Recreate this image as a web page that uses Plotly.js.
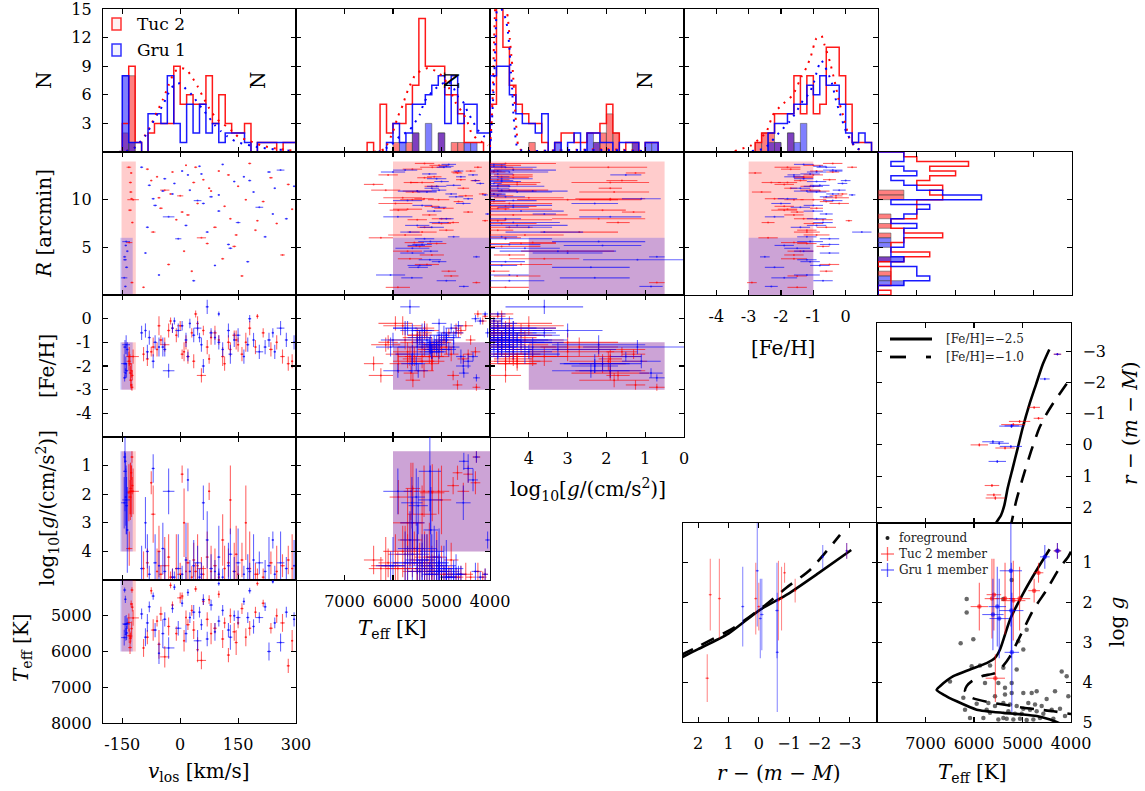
<!DOCTYPE html>
<html><head><meta charset="utf-8">
<script src="https://cdn.plot.ly/plotly-3.0.1.min.js"></script>
<style>html,body{margin:0;padding:0;background:#fff}#plot{width:1145px;height:791px}</style>
</head><body><div id="plot"></div>
<script>
// ---------------- DATA ----------------
// Tuc 2 field sample (first 10 = members)
const tucMember=[1,1,1,1,1,1,1,1,1,1, 0,0,0,0,0,0,0,0,0,0, 0,0,0,0,0,0,0,0,0,0, 0,0,0,0,0,0,0,0,0,0, 0,0,0,0,0,0,0,0,0,0, 0,0,0,0,0,0];
const tucV=[-128,-126,-130,-124,-132,-127,-125,-133,-122,-129, -95,-85,-70,-60,-50,-40,-30,-20,-10,0, 10,15,20,30,35,45,55,60,70,80, 90,100,110,115,125,130,140,150,160,170, 180,195,215,235,250,265,280,290,-75,5, 75,-25,40,200,-55,145];
const tucVe=[4,3,5,3,8,3,4,6,15,4, 3,4,6,3,5,12,4,3,3,8, 3,2,5,3,4,3,12,3,4,3, 5,3,4,3,4,3,5,3,4,3, 4,3,4,5,3,6,4,3,3,4, 3,3,4,3,4,4];
const tucT=[5590,5360,5890,4760,5560,4670,4280,5190,5060,5630, 5900,5600,5400,5150,4950,6150,5300,4700,5500,4500, 5700,5050,5250,4850,5400,5950,6250,4600,5100,5500, 5350,4400,5650,5200,6100,5000,5450,5200,4800,5600, 5350,4900,4650,5350,5000,5200,6400,5700,4300,4450, 4550,4150,4250,4100,5800,5750];
const tucTe=[150,200,180,120,200,100,80,250,220,150, 250,200,300,150,200,300,250,100,200,150, 300,200,150,150,250,350,250,100,200,300, 150,100,250,150,200,200,250,150,150,250, 200,150,100,150,200,250,200,300,100,100, 120,80,80,60,400,350];
const tucG=[1.8,1.9,2.1,1.7,3.9,1.25,0.7,1.95,1.9,1.9, 4.6,4.4,2.7,4.7,4.8,4.5,4.2,4.9,4.6,4.8, 3.0,4.7,4.4,4.9,4.3,4.5,4.6,4.8,4.2,4.7, 4.5,4.9,3.6,4.6,4.4,2.2,4.7,4.8,4.3,3.0, 4.6,4.8,4.9,4.4,4.7,4.5,4.3,4.6,1.6,1.3, 1.9,4.9,4.7,4.8,4.0,4.1];
const tucGe=[0.9,0.9,0.6,0.3,0.6,0.25,0.2,1.0,0.8,1.0, 0.6,0.5,1.0,0.8,0.3,1.0,0.8,0.3,1.2,0.4, 1.2,0.5,1.4,0.4,0.6,1.1,0.4,0.3,0.9,0.9, 0.6,0.2,0.9,0.8,0.5,1.2,1.0,0.3,0.6,1.3, 1.3,0.4,0.3,0.4,0.9,0.4,0.5,1.2,0.4,0.3, 0.3,0.2,0.3,0.2,0.9,1.0];
const tucF=[-2.6,-2.2,-1.9,-2.4,-1.6,-2.8,-2.9,-1.8,-1.6,-2.3, -1.5,-1.7,-1.2,-1.3,-0.9,-1.1,-0.5,-0.4,-0.7,-0.3, -1.4,-1.0,-1.6,-0.6,-1.8,-0.2,-2.4,-0.5,-1.2,-0.8, -0.6,-0.9,-1.6,-1.9,-1.0,-1.3,-0.7,-1.1,-1.5,-1.0, -0.4,-1.2,-0.6,-1.3,-1.0,-1.6,-1.9,-1.8,-1.4,-1.5, -1.7,-0.1,0.2,0.1,-0.3,-0.9];
const tucFe=[0.3,0.3,0.4,0.2,0.4,0.2,0.15,0.4,0.3,0.3, 0.3,0.3,0.4,0.3,0.2,0.3,0.3,0.2,0.3,0.2, 0.4,0.3,0.3,0.2,0.3,0.3,0.3,0.2,0.3,0.3, 0.3,0.2,0.4,0.3,0.3,0.3,0.2,0.3,0.3,0.4, 0.3,0.3,0.2,0.3,0.3,0.3,0.3,0.3,0.2,0.2, 0.2,0.15,0.15,0.1,0.4,0.4];
const tucR=[10.8,10.1,8.9,7.6,5.5,12.8,1.3,13.4,10.0,11.8, 0.8,13.2,6.6,12.4,9.1,11.0,3.2,12.9,7.9,10.4, 4.6,13.6,8.4,2.5,11.8,9.6,6.0,12.1,5.4,10.9, 7.1,13.0,3.8,9.3,12.6,8.0,5.1,11.4,2.0,10.0, 13.8,6.8,9.8,12.3,7.5,4.2,11.6,9.0,12.0,8.7, 11.2,10.6,13.4,7.8,10.2,6.3];
const tucMemMag=[1.6,0.1,0.0,-1.2,1.7,-0.85,-2.9,-0.65,-0.75,1.3];
const tucMemMagErr=[0.05,0.05,0.05,0.04,0.06,0.04,0.03,0.05,0.05,0.05];

// Gru 1 field sample (first 8 = members)
const gruMember=[1,1,1,1,1,1,1,1, 0,0,0,0,0,0,0,0,0,0, 0,0,0,0,0,0,0,0,0,0, 0,0,0,0,0,0,0,0,0,0, 0,0,0,0,0,0,0,0,0,0, 0,0,0,0];
const gruV=[-143,-141,-139,-145,-137,-142,-144,-140, -100,-90,-80,-65,-55,-40,-30,-20,-5,5, 15,25,35,45,55,70,80,90,100,110, 125,140,150,165,175,190,205,220,230,245, 260,275,295,-70,20,60,-15,100,180,-45, 130,240,-85,50];
const gruVe=[5,3,4,8,3,3,4,10, 4,3,4,5,3,4,15,3,8,3, 4,3,4,10,3,4,5,3,4,3, 4,3,6,3,4,3,10,4,5,3, 10,4,3,4,3,4,3,3,4,4, 5,3,4,3];
const gruT=[5240,5520,5480,5610,5220,4540,4280,5230, 4950,5600,4750,5400,6050,5100,5900,4800,5350,4650, 5500,5050,4900,5700,5250,5650,4700,5450,5150,4850, 5400,5000,5050,4600,5050,5300,5050,4750,6000,5200, 5750,4900,5100,4450,4350,4550,4200,4100,4300,5500, 5600,4050,5200,4900];
const gruTe=[230,180,200,220,150,100,70,250, 150,250,150,200,300,200,300,120,200,100, 250,150,200,300,150,200,150,250,150,150, 200,150,200,100,150,200,150,120,250,150, 250,150,200,100,100,150,80,60,80,400, 350,50,250,150];
const gruG=[1.2,2.1,2.4,2.3,3.25,0.85,0.7,2.2, 4.6,3.0,4.8,4.4,4.5,4.7,1.9,4.9,4.6,4.8, 4.3,4.7,4.5,4.4,4.8,3.6,4.6,4.7,4.2,4.9, 4.5,4.7,4.4,4.8,4.6,4.3,4.4,4.7,4.5,4.8, 4.4,4.6,4.5,1.1,1.5,2.3,4.9,4.8,4.7,3.9, 4.1,3.6,4.0,4.9];
const gruGe=[1.4,1.0,1.0,0.9,1.5,0.3,0.2,1.2, 0.8,0.9,0.3,1.0,0.5,0.8,0.8,0.3,1.2,0.3, 1.3,0.4,0.9,0.6,0.4,1.0,0.5,0.4,1.1,0.3, 0.8,0.5,1.2,0.3,0.5,0.9,0.4,0.4,1.0,0.3, 1.1,0.4,0.9,0.5,0.4,0.6,0.2,0.2,0.3,0.9, 0.9,0.3,0.6,0.3];
const gruF=[-1.2,-1.9,-2.2,-1.9,-1.3,-2.3,-2.5,-1.1, -0.6,-0.5,-0.8,-1.0,-1.2,-1.3,-2.2,-0.4,-0.5,-0.3, -0.9,-0.2,-0.7,-0.4,-1.1,0.5,-0.6,-0.8,-1.0,-1.3, -0.5,-0.9,-0.7,-1.6,-1.1,-0.9,-1.4,-1.2,-0.9,-1.4, -0.4,-0.9,-1.0,-1.8,-1.6,-2.0,-0.1,0.2,0.0,-1.2, -1.5,-0.6,-1.4,-0.8];
const gruFe=[0.3,0.3,0.3,0.4,0.3,0.2,0.15,0.4, 0.3,0.3,0.3,0.3,0.4,0.3,0.3,0.2,0.3,0.2, 0.3,0.2,0.3,0.3,0.3,0.3,0.2,0.3,0.3,0.3, 0.3,0.3,0.3,0.3,0.3,0.3,0.3,0.3,0.3,0.3, 0.3,0.3,0.3,0.3,0.2,0.3,0.15,0.1,0.15,0.4, 0.4,0.2,0.3,0.2];
const gruR=[3.7,5.2,2.9,1.8,4.6,0.9,4.0,5.6, 13.4,4.4,11.5,9.4,2.1,12.2,8.2,10.6,5.9,13.0, 7.3,11.0,1.5,9.9,12.7,6.6,10.3,3.1,8.8,13.7, 5.3,11.9,7.6,12.4,3.5,10.8,9.2,6.1,12.9,11.2, 13.1,8.0,11.4,10.1,12.6,9.6,11.7,10.5,12.0,10.9, 4.9,8.5,7.1,13.5];
const gruMemMag=[0.05,0.53,-0.05,-0.1,-0.61,-2.11,-2.9,-0.6];
const gruMemMagErr=[0.05,0.05,0.05,0.06,0.05,0.04,0.03,0.06];

// Histograms (30 bins each): bin start, bin size, counts
const vlosBin={start:-200,size:500/30};
const tucVlosHist=[0,0,0,3,9,1,0,2,3,3,3,9,5,6,5,5,8,3,6,3,2,2,3,0,1,1,1,0,1,1];
const gruVlosHist=[0,0,0,8,1,1,0,4,4,3,8,3,1,5,2,5,2,3,1,2,2,2,1,0,1,1,1,1,1,1];
const tucVlosMem=[0,0,0,2,8,0,0,0,0,0,0,0,0,0,0,0,0,0,0,0,0,0,0,0,0,0,0,0,0,0];
const gruVlosMem=[0,0,0,8,1,0,0,0,0,0,0,0,0,0,0,0,0,0,0,0,0,0,0,0,0,0,0,0,0,0];
const teffBin={start:8000,size:-4000/30};
const tucTeffHist=[0,0,0,0,0,0,0,0,0,0,0,1,0,5,2,3,3,5,7,14,9,9,9,6,6,4,1,1,1,0];
const gruTeffHist=[0,0,0,0,0,0,0,0,0,0,0,0,0,0,1,3,1,2,5,5,6,7,8,3,8,3,5,5,2,2];
const tucTeffMem=[0,0,0,0,0,0,0,0,0,0,0,0,0,0,0,1,0,1,2,0,0,0,2,0,1,1,0,0,0,0];
const gruTeffMem=[0,0,0,0,0,0,0,0,0,0,0,0,0,0,0,0,1,0,2,0,3,0,2,0,0,0,1,1,0,0];
const loggBin={start:5,size:-5/30};
const tucLoggHist=[5,17,11,7,5,4,3,3,1,0,1,2,2,1,1,2,2,3,5,2,0,1,1,0,1,1,0,0,0,0];
const gruLoggHist=[8,9,9,6,4,3,3,2,4,0,1,0,1,2,0,2,2,1,1,0,1,1,1,0,1,1,0,0,0,0];
const tucLoggMem=[0,0,0,0,0,0,1,0,0,0,0,0,0,0,0,0,1,2,4,2,0,0,1,0,0,0,0,0,0,0];
const gruLoggMem=[0,0,0,0,0,0,0,0,0,0,1,0,0,0,0,2,1,0,0,0,0,0,1,0,1,1,0,0,0,0];
const fehBin={start:-5,size:0.2};
const tucFehHist=[0,0,0,0,0,0,0,0,0,0,0,1,2,2,4,4,4,8,4,8,4,5,11,11,8,5,1,1,1,0];
const gruFehHist=[0,0,0,0,0,0,0,0,0,0,0,0,0,2,3,3,4,5,5,7,6,8,7,7,5,2,1,2,1,0];
const tucFehMem=[0,0,0,0,0,0,0,0,0,0,0,1,2,2,1,0,2,0,0,0,0,0,0,0,0,0,0,0,0,0];
const gruFehMem=[0,0,0,0,0,0,0,0,0,0,0,0,0,1,1,0,2,1,3,0,0,0,0,0,0,0,0,0,0,0];
const rBin={start:0,size:0.5};
const tucRHist=[1,0,1,1,1,1,0,2,4,1,1,2,5,2,1,1,3,3,3,3,5,4,5,3,4,6,4,7,3,2];
const gruRHist=[0,0,2,4,3,3,1,2,1,1,2,2,2,2,3,1,2,3,4,1,8,5,3,2,1,3,2,1,2,2];
const tucRMem=[0,0,0,0,1,0,0,1,0,0,0,0,1,0,1,0,1,0,0,0,2,2,0,0,0,0,0,0,0,0];
const gruRMem=[0,0,2,1,0,0,0,2,0,0,1,1,0,0,0,0,0,0,0,0,0,0,0,0,0,0,0,0,0,0];

// Model (dotted) curves over histograms
const tucVlosModelX=[-160,-140,-120,-105,-90,-75,-60,-45,-30,-15,0,15,30,45,60,75,90,105,120,135,150,170,190,210,230,250,270,290];
const tucVlosModelY=[0,0.1,0.4,1.0,1.8,2.9,4.2,5.5,7.0,8.4,8.8,8.7,7.9,6.9,5.7,4.6,3.7,3.1,2.7,2.2,1.6,1.3,1.0,0.7,0.5,0.35,0.25,0.15];
const gruVlosModelY=[0,0.1,0.4,1.0,1.7,2.8,3.9,4.9,6.2,7.1,7.2,6.6,6.0,5.2,4.4,3.6,2.8,2.2,1.7,1.3,1.0,0.8,0.6,0.45,0.35,0.25,0.2,0.1];
const tucTeffModelX=[6400,6180,6010,5900,5800,5730,5650,5540,5400,5280,5080,4940,4800,4700,4590,4490,4390,4280,4180,4040];
const tucTeffModelY=[0,0.3,2.0,3.7,4.9,6.0,7.0,8.1,8.6,8.8,8.4,7.7,6.2,5.1,4.3,3.5,2.1,1.4,1.1,0.7];
const gruTeffModelX=[6300,6040,5870,5660,5450,5350,5180,5010,4860,4760,4660,4560,4460,4350,4250,4110,4000];
const gruTeffModelY=[0,0.7,1.6,2.3,3.9,5.3,6.4,7.1,7.4,6.8,5.8,5.3,4.2,3.2,2.3,1.6,1.4];
const tucLoggModelX=[5.0,4.96,4.93,4.9,4.87,4.84,4.8,4.7,4.6,4.54,4.49,4.45,4.41,4.36,4.32,4.28,4.2,4.0,3.0,2.0,1.0];
const tucLoggModelY=[0.5,3,6,11,15,18,20,19,16,14,11.9,10.1,8.4,4.9,2.5,0.8,0.2,0.1,0.2,0.3,0.1];
const gruLoggModelX=[5.0,4.96,4.92,4.88,4.84,4.8,4.7,4.6,4.55,4.5,4.46,4.43,4.4,4.35,4.3,4.2,4.0,3.0,2.0,1.0];
const gruLoggModelY=[0.3,2.5,5.5,9,14,16,15,14,13,11,8.4,6.7,4.2,1.8,0.5,0.2,0.1,0.2,0.2,0.1];
const tucFehModelX=[-3.43,-2.92,-2.66,-2.45,-2.25,-1.99,-1.63,-1.37,-1.22,-1.08,-0.91,-0.75,-0.65,-0.49,-0.34,-0.19,-0.05,0.12,0.33,0.6];
const tucFehModelY=[0.1,0.7,1.4,2.1,3.9,4.9,6.0,7.9,8.8,10.0,11.9,12.2,11.2,9.5,7.4,5.1,3.5,1.4,0.4,0.1];
const gruFehModelX=[-2.9,-2.5,-2.04,-1.73,-1.53,-1.32,-1.16,-1.01,-0.86,-0.75,-0.63,-0.44,-0.29,-0.19,0.02,0.28,0.5];
const gruFehModelY=[0.1,0.4,2.1,3.2,4.2,5.4,6.0,7.0,8.8,9.6,8.9,7.4,5.3,4.2,2.1,0.6,0.1];

// Selection boxes: [vlos], [Teff], [logg], [FeH], [R]
const tucBox={v:[-152,-115],T:[6000,4000],g:[0.5,4],f:[-3,-1],R:[0,14]};
const gruBox={v:[-155,-123],T:[6000,4000],g:[0.5,4],f:[-3,-1],R:[0,6]};

// Isochrones
const isoPoorT_B=[4440,4707,4982,5258,5464,5567,5739,6082,6426,6701,6770,6632,6357,5945,5395,4982,4707,4432,4200,4000];
const isoPoorG_B=[0.66,1.18,1.76,2.43,3.18,3.39,3.52,3.68,3.85,4.10,4.19,4.31,4.48,4.69,4.77,4.81,4.85,4.94,5.05,5.15];
const isoRichT_B=[4000,4054,4261,4501,4776,5051,5258,5420,5567,5842,6050,6151,6185,6048,5700,5300,4982,4639,4364,4000];
const isoRichG_B=[0.72,0.84,1.18,1.68,2.18,2.85,3.35,3.62,3.77,3.85,3.98,4.10,4.23,4.39,4.50,4.58,4.64,4.69,4.73,4.80];
const isoPoorT_C=[5570,5546,5443,5374,5306,5203,5100,4997,4859,4722,4584,4447];
const isoPoorM_C=[2.7,2.50,2.25,1.93,1.39,0.75,0.11,-0.54,-1.29,-1.93,-2.57,-3.05];
const isoRichT_C=[5260,5216,5134,4997,4825,4653,4515,4344,4172,4000];
const isoRichM_C=[2.7,2.41,1.82,1.07,0.21,-0.54,-0.96,-1.39,-1.77,-2.15];
const isoPoorM_A=[2.6,2.5,2.0,1.0,0.0,-0.97,-1.97,-3.05];
const isoPoorG_A=[3.40,3.36,3.17,2.78,2.20,1.78,1.26,0.68];
const isoRichM_A=[2.6,2.1,0.84,-0.15,-0.92,-1.69,-2.68];
const isoRichG_A=[3.33,3.14,2.64,2.10,1.62,1.18,0.30];

// Foreground stars (Teff, logg)
const fgT=[6495,6220,6048,5876,5670,5773,5498,5395,5223,5120,5223,4983,4811,4708,4502,4330,4192,4089,4055,6185,5945,5739,5567,5395,5258,5120,4983,4845,4708,4570,4398,4227,5498,5326,5189,5051,4914,4776,4639,5670,5807,5292,5155,5017,4880,4742,4605,5361,5567,5086,4983,4914,5395,6151,6151,6014,6275,5361,5223,5395,4364,4124,6082,5704];
const fgG=[3.98,4.39,3.60,3.58,3.58,4.02,4.02,3.64,4.02,3.68,4.27,4.27,4.27,4.23,4.42,4.23,3.73,3.85,4.35,4.69,4.54,4.69,4.60,4.52,4.56,4.60,4.67,4.69,4.73,4.79,4.69,4.67,4.94,4.92,4.94,4.92,4.95,4.94,4.90,4.77,4.90,4.73,4.79,4.79,4.52,4.56,4.60,4.31,4.35,2.97,3.18,2.68,1.91,1.91,2.25,2.92,3.02,4.14,1.43,4.90,4.92,4.85,4.90,4.52];

// ---------------- BUILD ----------------
const W=1145,H=791;
const FONT='DejaVu Serif';
const RED='rgba(255,0,0,0.6)', BLUE='rgba(0,0,255,0.6)';
const px=x=>x/W, py=y=>1-y/H;
const COL=[[103,296],[296,490],[490,684],[684,878],[878,1072]];
const ROW=[[9,152],[152,295],[295,437],[437,580],[580,723]];
const id=n=>n===1?'':String(n);

const layout={width:W,height:H,margin:{l:0,r:0,t:0,b:0},paper_bgcolor:'white',plot_bgcolor:'rgba(0,0,0,0)',
  showlegend:false,barmode:'overlay',shapes:[],annotations:[],font:{family:FONT,size:16,color:'black'}};
const traces=[];

function addAxes(n,xb,yb,xr,yr,xt,yt,opt){
  opt=opt||{};
  const base={showline:true,linecolor:'black',linewidth:1.2,mirror:'ticks',ticks:'inside',ticklen:5,tickwidth:1.1,
    tickcolor:'black',showgrid:false,zeroline:false,fixedrange:true,tickfont:{family:FONT,size:16,color:'black'},
    ticklabelstandoff:7,ticklabeloverflow:'allow'};
  const xa=Object.assign({},base,{domain:[px(xb[0]),px(xb[1])],range:xr,anchor:'y'+id(n),
    tickmode:'array',tickvals:xt.v,showticklabels:!!opt.xlab});
  const ya=Object.assign({},base,{domain:[py(yb[1]),py(yb[0])],range:yr,anchor:'x'+id(n),
    tickmode:'array',tickvals:yt.v,showticklabels:!!opt.ylab,side:opt.yside||'left'});
  if(opt.xlab && xt.t) xa.ticktext=xt.t;
  if(opt.ylab && yt.t) ya.ticktext=yt.t;
  layout['xaxis'+id(n)]=xa; layout['yaxis'+id(n)]=ya;
}
const VR=[-200,300],TR=[8000,4000],GR=[5,0],FR=[-5,1],RR=[0,15],NR=[0,15],MR=[2.5,-3.9];
const Vt={v:[-150,0,150,300],t:['-150','0','150','300']};
const Tt={v:[7000,6000,5000,4000]};
const Gt={v:[4,3,2,1,0]};
const Ft={v:[-4,-3,-2,-1,0],t:['-4','-3','-2','-1','0']};
const Nt={v:[3,6,9,12,15]};
const Rt={v:[5,10]};
const FYt={v:[0,-1,-2,-3,-4],t:['0','-1','-2','-3','-4']};
const GYt={v:[1,2,3,4]};
const TYt={v:[5000,6000,7000,8000]};

addAxes(1,COL[0],ROW[0],VR,NR,Vt,Nt,{ylab:true});
addAxes(2,COL[1],ROW[0],TR,NR,Tt,Nt);
addAxes(3,COL[2],ROW[0],GR,NR,Gt,Nt);
addAxes(4,COL[3],ROW[0],FR,NR,Ft,Nt);
addAxes(5,COL[0],ROW[1],VR,RR,Vt,Rt,{ylab:true});
addAxes(6,COL[1],ROW[1],TR,RR,Tt,Rt);
addAxes(7,COL[2],ROW[1],GR,RR,Gt,Rt);
addAxes(8,COL[3],ROW[1],FR,RR,Ft,Rt,{xlab:true});
addAxes(9,COL[4],ROW[1],NR,RR,Nt,Rt);
addAxes(10,COL[0],ROW[2],VR,FR,Vt,FYt,{ylab:true});
addAxes(11,COL[1],ROW[2],TR,FR,Tt,FYt);
addAxes(12,COL[2],ROW[2],GR,FR,Gt,FYt,{xlab:true});
addAxes(13,COL[0],ROW[3],VR,GR,Vt,GYt,{ylab:true});
addAxes(14,COL[1],ROW[3],TR,GR,Tt,GYt,{xlab:true});
addAxes(15,COL[0],ROW[4],VR,TR,Vt,TYt,{ylab:true,xlab:true});
addAxes(16,[877,1071],[323,523],TR,MR,Tt,{v:[-3,-2,-1,0,1,2]},{ylab:true,yside:'right'});
addAxes(17,[683,877],[523,722],MR,GR,{v:[2,1,0,-1,-2,-3]},{v:[1,2,3,4,5]},{xlab:true});
addAxes(18,[877,1071],[523,722],TR,GR,Tt,{v:[1,2,3,4,5]},{xlab:true,ylab:true,yside:'right'});

function cross(x,y,ex,ey,color,n,msize){
  const t={type:'scatter',mode:'markers',x,y,xaxis:'x'+id(n),yaxis:'y'+id(n),marker:{size:msize||2,color},hoverinfo:'skip'};
  if(ex) t.error_x={type:'data',array:ex,visible:true,thickness:1.1,width:0,color};
  if(ey) t.error_y={type:'data',array:ey,visible:true,thickness:1.1,width:0,color};
  return t;
}
function edges(b,n){const e=[];for(let k=0;k<=n;k++)e.push(b.start+k*b.size);return e;}
function step(b,counts,color,n,horiz){
  const e=edges(b,counts.length);const a=[e[0]],c=[0];
  counts.forEach((v,k)=>{a.push(e[k]);c.push(v);});a.push(e[counts.length]);c.push(0);
  return horiz?{type:'scatter',mode:'lines',x:c,y:a,line:{shape:'vh',color,width:1.5},xaxis:'x'+id(n),yaxis:'y'+id(n),hoverinfo:'skip',opacity:0.9}
              :{type:'scatter',mode:'lines',x:a,y:c,line:{shape:'hv',color,width:1.5},xaxis:'x'+id(n),yaxis:'y'+id(n),hoverinfo:'skip',opacity:0.9};
}
function filled(b,counts,color,n,horiz){
  const cen=[],val=[];
  counts.forEach((v,k)=>{if(v>0){cen.push(b.start+(k+0.5)*b.size);val.push(v);}});
  const t={type:'bar',width:Math.abs(b.size),marker:{color,line:{color:'rgba(80,80,80,0.55)',width:1}},xaxis:'x'+id(n),yaxis:'y'+id(n),hoverinfo:'skip',textposition:'none'};
  if(horiz){t.orientation='h';t.x=val;t.y=cen;}else{t.x=cen;t.y=val;}
  return t;
}
function dotted(x,y,color,n){return {type:'scatter',mode:'lines',x,y,line:{color,width:2,dash:'2px,6px',shape:'spline',smoothing:0.5},xaxis:'x'+id(n),yaxis:'y'+id(n),hoverinfo:'skip'};}
const FR_RED='rgba(255,0,0,0.5)',FR_BLUE='rgba(0,0,255,0.5)';

[[vlosBin,tucVlosHist,gruVlosHist,tucVlosMem,gruVlosMem,1],[teffBin,tucTeffHist,gruTeffHist,tucTeffMem,gruTeffMem,2],
 [loggBin,tucLoggHist,gruLoggHist,tucLoggMem,gruLoggMem,3],[fehBin,tucFehHist,gruFehHist,tucFehMem,gruFehMem,4]].forEach(h=>{
  traces.push(filled(h[0],h[3],FR_RED,h[5]));traces.push(filled(h[0],h[4],FR_BLUE,h[5]));
  traces.push(step(h[0],h[1],'rgb(255,0,0)',h[5]));traces.push(step(h[0],h[2],'rgb(0,0,255)',h[5]));
});
traces.push(dotted(tucVlosModelX,tucVlosModelY,'rgb(255,0,0)',1),dotted(tucVlosModelX,gruVlosModelY,'rgb(0,0,255)',1));
traces.push(dotted(tucTeffModelX,tucTeffModelY,'rgb(255,0,0)',2),dotted(gruTeffModelX,gruTeffModelY,'rgb(0,0,255)',2));
traces.push(dotted(tucLoggModelX,tucLoggModelY,'rgb(255,0,0)',3),dotted(gruLoggModelX,gruLoggModelY,'rgb(0,0,255)',3));
traces.push(dotted(tucFehModelX,tucFehModelY,'rgb(255,0,0)',4),dotted(gruFehModelX,gruFehModelY,'rgb(0,0,255)',4));
traces.push(filled(rBin,tucRMem,FR_RED,9,true),filled(rBin,gruRMem,FR_BLUE,9,true));
traces.push(step(rBin,tucRHist,'rgb(255,0,0)',9,true),step(rBin,gruRHist,'rgb(0,0,255)',9,true));

const tuc={V:[tucV,tucVe],T:[tucT,tucTe],G:[tucG,tucGe],F:[tucF,tucFe],R:[tucR,null]};
const gru={V:[gruV,gruVe],T:[gruT,gruTe],G:[gruG,gruGe],F:[gruF,gruFe],R:[gruR,null]};
const panels=[['V','R',5],['T','R',6],['G','R',7],['F','R',8],['V','F',10],['T','F',11],['G','F',12],['V','G',13],['T','G',14],['V','T',15]];
panels.forEach(p=>{
  traces.push(cross(tuc[p[0]][0],tuc[p[1]][0],tuc[p[0]][1],tuc[p[1]][1],RED,p[2]));
  traces.push(cross(gru[p[0]][0],gru[p[1]][0],gru[p[0]][1],gru[p[1]][1],BLUE,p[2]));
});

function rect(n,xr,yr,color){layout.shapes.push({type:'rect',xref:'x'+id(n),yref:'y'+id(n),x0:xr[0],x1:xr[1],y0:yr[0],y1:yr[1],fillcolor:color,line:{width:0},layer:'below'});}
const PINK='rgba(255,0,0,0.2)',PBLUE='rgba(0,0,255,0.2)';
const boxes=[['v','R',5],['T','R',6],['f','R',8],['v','f',10],['T','f',11],['g','f',12],['v','g',13],['T','g',14],['v','T',15]];
boxes.forEach(b=>{rect(b[2],tucBox[b[0]],tucBox[b[1]],PINK);rect(b[2],gruBox[b[0]],gruBox[b[1]],PBLUE);});
rect(7,[GR[0],tucBox.g[0]],[gruBox.R[1],tucBox.R[1]],PINK);
rect(7,tucBox.g,gruBox.R,PINK);rect(7,gruBox.g,gruBox.R,PBLUE);

const pick=(a,f)=>a.filter((_,i)=>f[i]);
const tm={T:pick(tucT,tucMember),Te:pick(tucTe,tucMember),G:pick(tucG,tucMember),Ge:pick(tucGe,tucMember)};
const gm={T:pick(gruT,gruMember),Te:pick(gruTe,gruMember),G:pick(gruG,gruMember),Ge:pick(gruGe,gruMember)};
function iso(x,y,n,dash){return {type:'scatter',mode:'lines',x,y,line:{color:'black',width:2.6,dash:dash?'14px,10px':'solid',shape:'spline',smoothing:0.6},xaxis:'x'+id(n),yaxis:'y'+id(n),hoverinfo:'skip'};}
traces.push(iso(isoPoorT_C,isoPoorM_C,16,false),iso(isoRichT_C,isoRichM_C,16,true));
traces.push(cross(tm.T,tucMemMag,tm.Te,tucMemMagErr,RED,16),cross(gm.T,gruMemMag,gm.Te,gruMemMagErr,BLUE,16));
traces.push(iso(isoPoorM_A,isoPoorG_A,17,false),iso(isoRichM_A,isoRichG_A,17,true));
traces.push(cross(tucMemMag,tm.G,tucMemMagErr,tm.Ge,'rgba(255,0,0,0.45)',17),cross(gruMemMag,gm.G,gruMemMagErr,gm.Ge,'rgba(0,0,255,0.45)',17));
traces.push({type:'scatter',mode:'markers',x:fgT,y:fgG,xaxis:'x18',yaxis:'y18',marker:{size:4.5,color:'rgba(40,40,40,0.7)'},hoverinfo:'skip'});
traces.push(iso(isoPoorT_B,isoPoorG_B,18,false),iso(isoRichT_B,isoRichG_B,18,true));
traces.push(cross(tm.T,tm.G,tm.Te,tm.Ge,RED,18,4.5),cross(gm.T,gm.G,gm.Te,gm.Ge,BLUE,18,4.5));

// ---------------- TEXT ----------------
function ann(text,x,y,o){layout.annotations.push(Object.assign({text,x:px(x),y:py(y),xref:'paper',yref:'paper',showarrow:false,
  font:{family:FONT,size:20,color:'black'},xanchor:'center',yanchor:'middle'},o||{}));}
const ROT={textangle:-90};
ann('N',44,80,ROT);
ann('N',258,80,ROT);ann('N',452,80,ROT);ann('N',645,80,ROT);
ann('<i>R</i> [arcmin]',44,224,ROT);
ann('[Fe/H]',47,366,ROT);
ann('log<sub>10</sub>[<i>g</i>/(cm/s<sup>2</sup>)]',47,508,ROT);
ann('<i>T</i><sub>eff</sub> [K]',22,648,ROT);
ann('<i>v</i><sub>los</sub> [km/s]',198,772);
ann('<i>T</i><sub>eff</sub> [K]',392,629);
ann('log<sub>10</sub>[<i>g</i>/(cm/s<sup>2</sup>)]',588,490);
ann('[Fe/H]',783,348);
ann('<i>r</i> − (<i>m</i> − <i>M</i>)',779,773);
ann('<i>T</i><sub>eff</sub> [K]',972,773);
ann('log <i>g</i>',1117,622,ROT);
ann('<i>r</i> − (<i>m</i> − <i>M</i>)',1130,423,ROT);
layout.shapes.push({type:'rect',xref:'paper',yref:'paper',x0:px(112),x1:px(121),y0:py(30),y1:py(18),line:{color:'rgba(255,0,0,0.8)',width:1.5},fillcolor:'rgba(255,0,0,0.05)'});
layout.shapes.push({type:'rect',xref:'paper',yref:'paper',x0:px(112),x1:px(121),y0:py(56),y1:py(44),line:{color:'rgba(0,0,255,0.8)',width:1.5},fillcolor:'rgba(0,0,255,0.05)'});
ann('Tuc 2',135,24,{xanchor:'left',font:{family:FONT,size:17,color:'black'}});
ann('Gru 1',135,50,{xanchor:'left',font:{family:FONT,size:17,color:'black'}});
layout.shapes.push({type:'line',xref:'paper',yref:'paper',x0:px(890),x1:px(932),y0:py(339),y1:py(339),line:{color:'black',width:2.8}});
layout.shapes.push({type:'line',xref:'paper',yref:'paper',x0:px(890),x1:px(906),y0:py(357),y1:py(357),line:{color:'black',width:2.8}});
layout.shapes.push({type:'line',xref:'paper',yref:'paper',x0:px(926),x1:px(931),y0:py(357),y1:py(357),line:{color:'black',width:2.8}});
ann('[Fe/H]=−2.5',944,339,{xanchor:'left',font:{family:FONT,size:12,color:'#222'}});
ann('[Fe/H]=−1.0',944,357,{xanchor:'left',font:{family:FONT,size:12,color:'#222'}});
layout.shapes.push({type:'circle',xref:'paper',yref:'paper',x0:px(885.5),x1:px(889.5),y0:py(540),y1:py(536),fillcolor:'rgb(30,30,30)',line:{width:0}});
[[554,RED],[570,BLUE]].forEach(r=>{
  layout.shapes.push({type:'line',xref:'paper',yref:'paper',x0:px(881),x1:px(894),y0:py(r[0]),y1:py(r[0]),line:{color:r[1],width:1.3}});
  layout.shapes.push({type:'line',xref:'paper',yref:'paper',x0:px(887.5),x1:px(887.5),y0:py(r[0]-7),y1:py(r[0]+7),line:{color:r[1],width:1.3}});
});
ann('foreground',897,538,{xanchor:'left',font:{family:FONT,size:12,color:'#222'}});
ann('Tuc 2 member',897,554,{xanchor:'left',font:{family:FONT,size:12,color:'#222'}});
ann('Gru 1 member',897,570,{xanchor:'left',font:{family:FONT,size:12,color:'#222'}});

Plotly.newPlot('plot',traces,layout,{staticPlot:true,displayModeBar:false});
</script></body></html>
